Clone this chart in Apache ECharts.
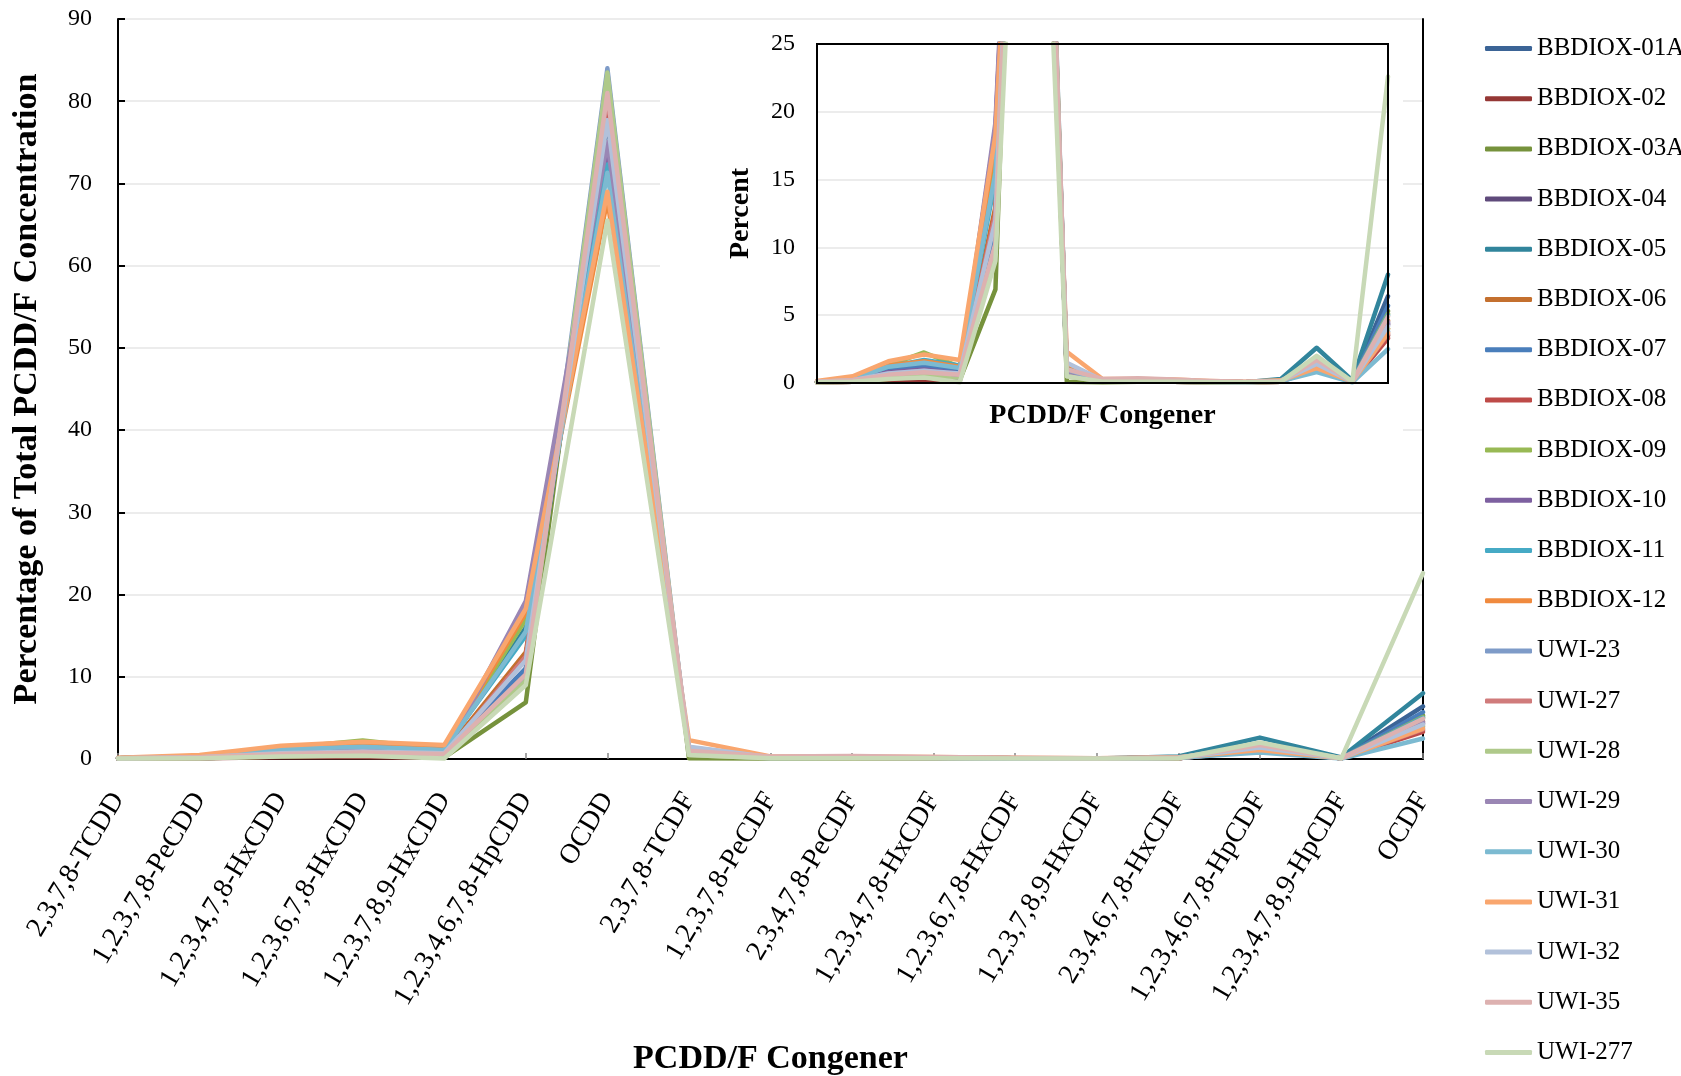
<!DOCTYPE html>
<html>
<head>
<meta charset="utf-8">
<script src="https://cdn.jsdelivr.net/npm/echarts@6/dist/echarts.min.js"></script>
<style>
html, body { margin: 0; padding: 0; background: #fff; }
#congenerChart { width: 1681px; height: 1076px; }
</style>
</head>
<body>
<div id="congenerChart"></div>
<script>
// congener profile of PCDD/F samples, with zoomed inset (0-25 %)
var congeners = ['2,3,7,8-TCDD', '1,2,3,7,8-PeCDD', '1,2,3,4,7,8-HxCDD', '1,2,3,6,7,8-HxCDD',
	'1,2,3,7,8,9-HxCDD', '1,2,3,4,6,7,8-HpCDD', 'OCDD', '2,3,7,8-TCDF', '1,2,3,7,8-PeCDF',
	'2,3,4,7,8-PeCDF', '1,2,3,4,7,8-HxCDF', '1,2,3,6,7,8-HxCDF', '1,2,3,7,8,9-HxCDF',
	'2,3,4,6,7,8-HxCDF', '1,2,3,4,6,7,8-HpCDF', '1,2,3,4,7,8,9-HpCDF', 'OCDF'];

var mainTicks = [0, 10, 20, 30, 40, 50, 60, 70, 80, 90];
var insetTicks = [0, 5, 10, 15, 20, 25];

var bbdiox01A = [0.1, 0.2, 0.9, 1.2, 0.9, 11, 77.5, 1.0, 0.2, 0.2, 0.15, 0.1, 0.05, 0.15, 1.4, 0.1, 6.4];
var bbdiox02 = [0.05, 0.1, 0.2, 0.2, 0.15, 12.5, 80, 0.6, 0.1, 0.1, 0.1, 0.05, 0.05, 0.1, 1.2, 0.1, 3.5];
var bbdiox03A = [0.05, 0.1, 0.3, 0.5, 0.2, 6.9, 83, 0.1, 0.05, 0.1, 0.1, 0.05, 0.05, 0.1, 1.3, 0.1, 5.3];
var bbdiox04 = [0.1, 0.2, 0.6, 0.8, 0.5, 18.5, 73.2, 0.8, 0.2, 0.2, 0.15, 0.1, 0.05, 0.15, 1.3, 0.1, 4.3];
var bbdiox05 = [0.1, 0.2, 1.1, 1.4, 1.0, 16, 72, 1.0, 0.2, 0.2, 0.2, 0.1, 0.05, 0.3, 2.6, 0.2, 8.0];
var bbdiox06 = [0.1, 0.2, 0.8, 1.0, 0.7, 13, 75, 0.9, 0.2, 0.2, 0.15, 0.1, 0.05, 0.15, 1.3, 0.1, 4.6];
var bbdiox07 = [0.1, 0.2, 0.9, 1.2, 1.0, 11, 78.5, 1.1, 0.2, 0.2, 0.15, 0.1, 0.05, 0.15, 1.4, 0.1, 5.7];
var bbdiox08 = [0.05, 0.1, 0.4, 0.6, 0.4, 12.5, 80, 0.8, 0.15, 0.15, 0.1, 0.05, 0.05, 0.1, 1.2, 0.1, 3.3];
var bbdiox09 = [0.1, 0.3, 1.3, 2.25, 1.2, 17, 74, 0.8, 0.2, 0.2, 0.15, 0.1, 0.05, 0.15, 1.4, 0.1, 5.1];
var bbdiox10 = [0.1, 0.2, 0.8, 1.0, 0.7, 18.8, 73, 0.9, 0.2, 0.2, 0.15, 0.1, 0.05, 0.15, 1.4, 0.1, 4.4];
var bbdiox11 = [0.1, 0.3, 1.2, 1.7, 1.3, 15, 72.3, 1.2, 0.2, 0.2, 0.2, 0.1, 0.05, 0.2, 1.3, 0.1, 5.0];
var bbdiox12 = [0.1, 0.3, 1.3, 1.6, 1.2, 17.8, 68, 1.4, 0.2, 0.2, 0.2, 0.1, 0.05, 0.15, 1.2, 0.1, 4.0];
var uwi23 = [0.05, 0.1, 0.4, 0.6, 0.4, 10, 84, 0.6, 0.1, 0.15, 0.1, 0.05, 0.05, 0.1, 1.0, 0.1, 3.8];
var uwi27 = [0.05, 0.1, 0.5, 0.7, 0.5, 12.5, 80.5, 0.9, 0.2, 0.25, 0.15, 0.1, 0.05, 0.1, 1.1, 0.1, 3.6];
var uwi28 = [0.05, 0.1, 0.4, 0.6, 0.4, 9.5, 83.5, 0.5, 0.1, 0.1, 0.1, 0.05, 0.05, 0.1, 1.3, 0.1, 4.0];
var uwi29 = [0.1, 0.2, 0.7, 0.9, 0.6, 19.2, 75, 0.9, 0.2, 0.2, 0.15, 0.1, 0.05, 0.15, 1.3, 0.1, 4.5];
var uwi30 = [0.1, 0.3, 1.2, 1.5, 1.1, 15.5, 71.3, 1.0, 0.2, 0.2, 0.15, 0.1, 0.05, 0.15, 0.8, 0.05, 2.5];
var uwi31 = [0.15, 0.5, 1.6, 2.1, 1.7, 18.3, 69, 2.3, 0.3, 0.3, 0.25, 0.15, 0.1, 0.2, 1.1, 0.1, 3.7];
var uwi32 = [0.1, 0.2, 0.7, 0.9, 0.7, 12, 77.7, 1.5, 0.2, 0.2, 0.15, 0.1, 0.05, 0.15, 1.4, 0.1, 4.2];
var uwi35 = [0.1, 0.2, 0.6, 0.8, 0.6, 10.3, 81, 1.0, 0.3, 0.35, 0.25, 0.15, 0.1, 0.15, 1.7, 0.1, 4.9];
var uwi277 = [0.05, 0.1, 0.3, 0.4, 0.05, 9, 65.5, 0.5, 0.1, 0.1, 0.1, 0.05, 0.05, 0.1, 2.0, 0.1, 22.6];

var sampleNames = ['BBDIOX-01A', 'BBDIOX-02', 'BBDIOX-03A', 'BBDIOX-04', 'BBDIOX-05', 'BBDIOX-06',
	'BBDIOX-07', 'BBDIOX-08', 'BBDIOX-09', 'BBDIOX-10', 'BBDIOX-11', 'BBDIOX-12',
	'UWI-23', 'UWI-27', 'UWI-28', 'UWI-29', 'UWI-30', 'UWI-31', 'UWI-32', 'UWI-35', 'UWI-277'];
var sampleData = [bbdiox01A, bbdiox02, bbdiox03A, bbdiox04, bbdiox05, bbdiox06, bbdiox07, bbdiox08,
	bbdiox09, bbdiox10, bbdiox11, bbdiox12, uwi23, uwi27, uwi28, uwi29, uwi30, uwi31, uwi32, uwi35, uwi277];
var sampleColors = ['#3B6496', '#953735', '#76923C', '#5F4A7B', '#31859C', '#C4702F',
	'#4A7EBB', '#BE4B48', '#98B954', '#7D60A0', '#46AAC5', '#F08A3E',
	'#7E9BC8', '#D07B7B', '#AFC98A', '#9A86B4', '#7CBAD1', '#F9A66E', '#B2C1DA', '#DDB1B0', '#C8D9B6'];

var serif = 'Liberation Serif';

var series = [];
for (var i = 0; i < sampleNames.length; i++) {
	var line = { color: sampleColors[i], width: 4.5, join: 'round', cap: 'round' };
	series.push({
		name: sampleNames[i], type: 'line', xAxisIndex: 0, yAxisIndex: 0,
		data: sampleData[i], symbol: 'none', lineStyle: line,
		itemStyle: { color: sampleColors[i] }, z: 2
	});
	series.push({
		name: sampleNames[i], type: 'line', xAxisIndex: 2, yAxisIndex: 2,
		data: sampleData[i], symbol: 'none', lineStyle: line,
		itemStyle: { color: sampleColors[i] }, z: 5
	});
}

var option = {
	animation: false,
	backgroundColor: '#fff',
	textStyle: { color: '#000', fontFamily: serif },
	grid: [
		{ left: 118, top: 19, width: 1305, height: 740, outerBoundsMode: 'none', containLabel: false, z: 0 },
		// inset frame drawn above its split lines
		{ left: 817, top: 44, width: 571, height: 339, outerBoundsMode: 'none', containLabel: false,
			show: true, backgroundColor: 'transparent', borderColor: '#000', borderWidth: 2, z: 6 }
	],
	graphic: [
		{ type: 'rect', shape: { x: 660, y: 21, width: 743, height: 420 },
			style: { fill: '#fff' }, z: 1, silent: true }
	],
	legend: {
		orient: 'vertical', left: 1480, top: 31, itemGap: 25.2,
		itemWidth: 47, itemHeight: 5, icon: 'roundRect', selectedMode: false,
		data: sampleNames,
		textStyle: { color: '#000', fontFamily: serif, fontSize: 25 }
	},
	xAxis: [
		{
			type: 'category', gridIndex: 0, data: congeners, boundaryGap: false,
			axisLine: { lineStyle: { color: '#888', width: 2 } },
			axisTick: { inside: true, length: 6, interval: 0, lineStyle: { color: '#888', width: 1.5 } },
			axisLabel: { interval: 0, rotate: 59, margin: 36, color: '#000', fontFamily: serif, fontSize: 28 },
			name: 'PCDD/F Congener', nameLocation: 'middle', nameGap: 283,
			nameTextStyle: { color: '#000', fontFamily: serif, fontSize: 34, fontWeight: 'bold' }
		},
		{
			type: 'category', gridIndex: 0, data: congeners, boundaryGap: false, position: 'top',
			axisLine: { lineStyle: { color: '#000', width: 2 } },
			axisTick: { show: false }, axisLabel: { show: false }
		},
		{
			type: 'category', gridIndex: 1, data: congeners, boundaryGap: false, z: 3,
			axisLine: { show: false }, axisTick: { show: false }, axisLabel: { show: false },
			name: 'PCDD/F Congener', nameLocation: 'middle', nameGap: 19,
			nameTextStyle: { color: '#000', fontFamily: serif, fontSize: 28, fontWeight: 'bold' }
		}
	],
	yAxis: [
		{
			type: 'value', gridIndex: 0, min: mainTicks[0], max: mainTicks[mainTicks.length - 1], interval: 10,
			axisLine: { show: true, lineStyle: { color: '#000', width: 2 } },
			axisTick: { show: true, inside: true, length: 7, lineStyle: { color: '#000', width: 2 } },
			splitLine: { lineStyle: { color: '#e6e6e6', width: 1.5 } },
			axisLabel: { margin: 26, color: '#000', fontFamily: serif, fontSize: 24 },
			name: 'Percentage of Total PCDD/F Concentration', nameLocation: 'middle', nameGap: 74,
			nameTextStyle: { color: '#000', fontFamily: serif, fontSize: 34, fontWeight: 'bold' }
		},
		{
			type: 'value', gridIndex: 0, min: 0, max: 90, position: 'right',
			axisLine: { show: true, lineStyle: { color: '#000', width: 2 } },
			axisTick: { show: false }, axisLabel: { show: false }, splitLine: { show: false }
		},
		{
			type: 'value', gridIndex: 1, min: insetTicks[0], max: insetTicks[insetTicks.length - 1], interval: 5, z: 3,
			axisLine: { show: false }, axisTick: { show: false },
			splitLine: { lineStyle: { color: '#e6e6e6', width: 1.5 } },
			axisLabel: { margin: 22, color: '#000', fontFamily: serif, fontSize: 24 },
			name: 'Percent', nameLocation: 'middle', nameGap: 62,
			nameTextStyle: { color: '#000', fontFamily: serif, fontSize: 28, fontWeight: 'bold' }
		}
	],
	series: series
};

var congenerChart = echarts.init(document.getElementById('congenerChart'));
congenerChart.setOption(option);
</script>
</body>
</html>
